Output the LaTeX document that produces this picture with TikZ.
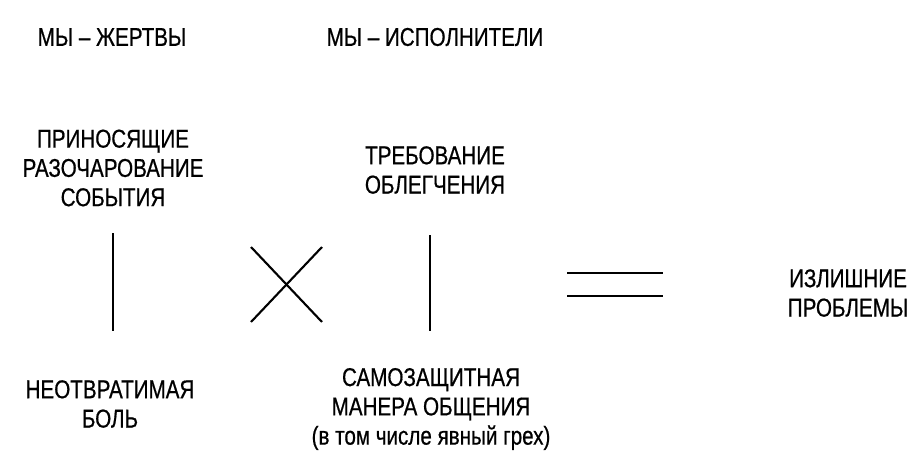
\documentclass[tikz,border=0pt]{standalone}
\usepackage{fontspec}
\setmainfont[FakeStretch=0.8,FakeBold=0.6]{Liberation Sans}
\usepackage{tikz}
\usetikzlibrary{positioning}

\tikzset{
    label/.style={align=center,inner sep=0pt,font=\fontsize{22}{25}\selectfont},
    stroke/.style={line width=1.8pt,black}
}

\begin{document}
\begin{tikzpicture}[x=0.03cm,y=-0.03cm]
    \useasboundingbox (0,0) rectangle (917,467);

    % Titoli
    \node[label] (zhertvy) at (112,37) {МЫ -- ЖЕРТВЫ};
    \node[label] (ispolniteli) at (435,37) {МЫ -- ИСПОЛНИТЕЛИ};

    % Colonna 1
    \node[label] (sobytiya) at (113,168) {ПРИНОСЯЩИЕ\\РАЗОЧАРОВАНИЕ\\СОБЫТИЯ};
    \coordinate (s1a) at (113,233);
    \coordinate (s1b) at (113,331);
    \draw[stroke] (s1a) -- (s1b);
    \node[label] (bol) at (110,404) {НЕОТВРАТИМАЯ\\БОЛЬ};

    % Croce
    \coordinate (xa) at (251,247);
    \coordinate (xb) at (322,322);
    \coordinate (xc) at (322,247);
    \coordinate (xd) at (251,322);
    \draw[stroke] (xa) -- (xb);
    \draw[stroke] (xc) -- (xd);

    % Colonna 2
    \node[label] (oblegchenie) at (435,170) {ТРЕБОВАНИЕ\\ОБЛЕГЧЕНИЯ};
    \coordinate (s2a) at (430,235);
    \coordinate (s2b) at (430,331);
    \draw[stroke] (s2a) -- (s2b);
    \node[label] (manera) at (431,409) {САМОЗАЩИТНАЯ\\МАНЕРА ОБЩЕНИЯ\\(в том числе явный грех)};

    % Uguale
    \coordinate (e1a) at (567,273);
    \coordinate (e1b) at (663,273);
    \coordinate (e2a) at (567,296);
    \coordinate (e2b) at (663,296);
    \draw[stroke] (e1a) -- (e1b);
    \draw[stroke] (e2a) -- (e2b);

    % Risultato
    \node[label] (problemy) at (848,293) {ИЗЛИШНИЕ\\ПРОБЛЕМЫ};
\end{tikzpicture}
\end{document}
